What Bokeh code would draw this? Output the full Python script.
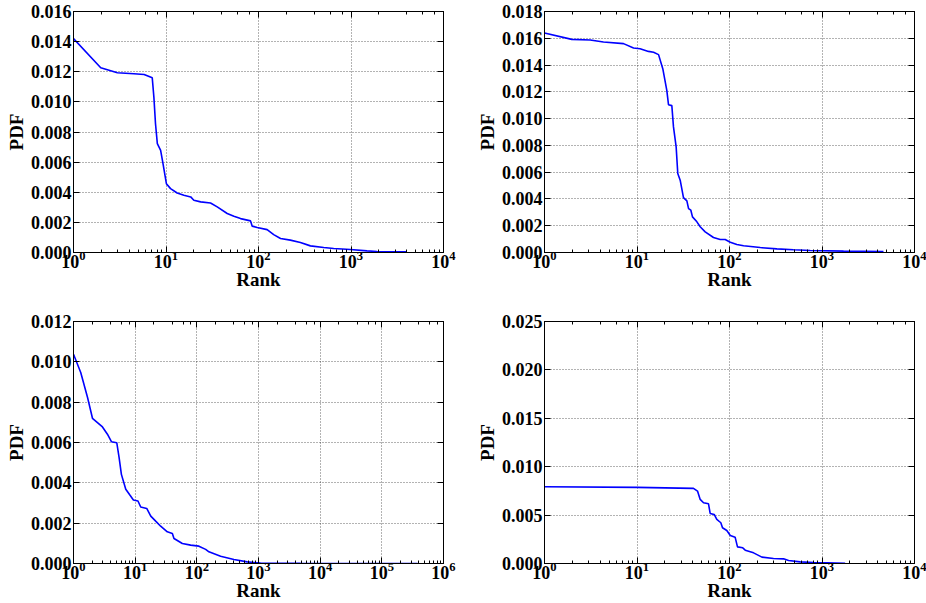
from bokeh.plotting import figure
from bokeh.layouts import column, row
from bokeh.models import (Range1d, LogAxis, LinearAxis, FixedTicker,
                          NumeralTickFormatter, LogTicker, CustomJSTickFormatter)
from bokeh.embed import file_html
from bokeh.resources import INLINE

# ---- data (rank, pdf) ----
rank_a = [1, 1.97, 2.98, 4.5, 5.8, 7.1, 7.4, 7.7, 8.06, 8.75, 9.28, 10.1, 11.2, 13.2,
          15.6, 18.5, 20, 23.7, 30.3, 35.8, 45.9, 54.2, 64, 82, 85.5, 96.8, 124, 146,
          173, 221, 284, 364, 507, 650, 984, 1489, 1906, 4020]
pdf_a = [0.0142, 0.01227, 0.01193, 0.01187, 0.01182, 0.0116, 0.0103, 0.00855, 0.00723,
         0.00678, 0.0059, 0.00457, 0.00424, 0.00395, 0.0038, 0.00369, 0.00347, 0.00336,
         0.00329, 0.00303, 0.00259, 0.00241, 0.00225, 0.0021, 0.00175, 0.00166, 0.00152,
         0.00119, 0.00093, 0.00082, 0.00066, 0.00044, 0.00033, 0.00027, 0.0002, 0.00011,
         0.00007, 0.00004]

rank_b = [1, 1.97, 3.12, 4.34, 7.15, 9.17, 10.8, 13.3, 15.1, 17.1, 19, 21, 21.9, 23.8,
          24.8, 26.5, 27.6, 29.3, 31.8, 34.6, 36.1, 38.2, 39.8, 44.4, 48.2, 54.6, 67.1,
          79.3, 89.8, 102, 120, 142, 215, 325, 492, 745, 1708, 4620]
pdf_b = [0.0164, 0.01592, 0.01587, 0.01572, 0.0156, 0.01527, 0.01522, 0.01502, 0.01495,
         0.01478, 0.01373, 0.01211, 0.01104, 0.01097, 0.00938, 0.00789, 0.0059, 0.0054,
         0.0041, 0.00386, 0.00328, 0.00316, 0.00266, 0.00229, 0.00192, 0.00154, 0.00112,
         0.00097, 0.00097, 0.00077, 0.0006, 0.0005, 0.00037, 0.00027, 0.0002, 0.00015,
         0.0001, 0.00007]

rank_c = [1, 1.31, 1.69, 2.03, 2.95, 3.55, 4.12, 5.03, 5.49, 5.98, 7.04, 8.26, 9.36,
          11.1, 12.3, 15.4, 17.9, 21.5, 25.9, 33.2, 40.1, 42.6, 58.2, 79.4, 108, 139,
          157, 243, 399, 656, 1079, 4790, 380000]
pdf_c = [0.01038, 0.00947, 0.00823, 0.0072, 0.00677, 0.00641, 0.00604, 0.00599, 0.00525,
         0.00442, 0.00368, 0.00338, 0.00315, 0.0031, 0.0028, 0.00273, 0.00235, 0.0021,
         0.00185, 0.00157, 0.00149, 0.00124, 0.00099, 0.00091, 0.00086, 0.0007, 0.00058,
         0.00036, 0.0002, 0.00008, 0.00002, 0.000005, 0.0]

rank_d = [1, 9.96, 40.8, 45.1, 48.2, 52.4, 59.3, 61.8, 68.3, 72.9, 80.6, 84, 93.5, 102,
          115, 122, 139, 148, 182, 224, 299, 384, 435, 581, 809, 1128, 1778]
pdf_d = [0.00793, 0.00786, 0.00776, 0.00748, 0.00662, 0.00628, 0.00617, 0.00517, 0.00507,
         0.00455, 0.00421, 0.00369, 0.00341, 0.0029, 0.00272, 0.00172, 0.00162, 0.00138,
         0.0011, 0.00066, 0.00052, 0.00048, 0.00031, 0.00017, 0.0001, 0.00007, 0.00003]

x_max = [1e4, 1e4, 1e6, 1e4]
y_max = [0.016, 0.018, 0.012, 0.025]
y_ticks_a = [0.0, 0.002, 0.004, 0.006, 0.008, 0.010, 0.012, 0.014, 0.016]
y_ticks_b = [0.0, 0.002, 0.004, 0.006, 0.008, 0.010, 0.012, 0.014, 0.016, 0.018]
y_ticks_c = [0.0, 0.002, 0.004, 0.006, 0.008, 0.010, 0.012]
y_ticks_d = [0.0, 0.005, 0.010, 0.015, 0.020, 0.025]
x_label = "Rank"
y_label = "PDF"

FONT = "Liberation Serif"
FS = "18px"
FS_LABEL = "19px"


def make(xs, ys, xmax, ymax, yticks, w, h, bl, br, bt, bb):
    p = figure(width=w, height=h, x_axis_type="log", output_backend="svg",
               toolbar_location=None, x_range=Range1d(1, xmax), y_range=Range1d(0, ymax),
               min_border_left=bl, min_border_right=br, min_border_top=bt,
               min_border_bottom=bb)
    p.line(xs, ys, line_color="#0000ff", line_width=1.6)
    p.outline_line_color = "black"
    p.outline_line_width = 1
    p.background_fill_color = "white"
    p.border_fill_color = "white"
    p.yaxis.ticker = FixedTicker(ticks=yticks)
    p.yaxis.formatter = NumeralTickFormatter(format="0.000")
    for ax in [p.xaxis[0], p.yaxis[0]]:
        ax.major_label_text_font = FONT
        ax.major_label_text_font_style = "bold"
        ax.major_label_text_font_size = FS
        ax.major_label_text_color = "black"
        ax.axis_label_text_font = FONT
        ax.axis_label_text_font_style = "bold"
        ax.axis_label_text_font_size = FS_LABEL
        ax.axis_label_text_color = "black"
        ax.major_tick_in = 6
        ax.major_tick_out = 0
        ax.minor_tick_in = 3
        ax.minor_tick_out = 0
        ax.axis_line_color = "black"
    p.xaxis.axis_label = x_label
    p.yaxis.axis_label = y_label
    p.xaxis.major_label_standoff = -2
    p.xaxis.axis_label_standoff = -2
    p.yaxis.major_label_standoff = 2
    p.yaxis.axis_label_standoff = 1
    blank = CustomJSTickFormatter(code="return ' '")
    blank2 = CustomJSTickFormatter(code="return ' '")
    top = LogAxis(ticker=LogTicker(), formatter=blank, major_label_text_font_size="2px",
                  major_tick_in=6, major_tick_out=0, minor_tick_in=3, minor_tick_out=0,
                  axis_line_color="black", major_label_standoff=0)
    right = LinearAxis(ticker=FixedTicker(ticks=yticks),
                       formatter=blank2, major_label_text_font_size="2px",
                       major_tick_in=6, major_tick_out=0, minor_tick_in=0, minor_tick_out=0,
                       axis_line_color="black", major_label_standoff=0)
    p.add_layout(top, "above")
    p.add_layout(right, "right")
    p.xgrid.grid_line_color = "black"
    p.xgrid.grid_line_alpha = 0.6
    p.xgrid.grid_line_dash = "1 2"
    p.ygrid.grid_line_color = "black"
    p.ygrid.grid_line_alpha = 0.6
    p.ygrid.grid_line_dash = "1 2"
    return p


p1 = make(rank_a, pdf_a, x_max[0], y_max[0], y_ticks_a, 463, 301, 73, 20, 11, 49)
p2 = make(rank_b, pdf_b, x_max[1], y_max[1], y_ticks_b, 463, 301, 81, 12, 11, 49)
p3 = make(rank_c, pdf_c, x_max[2], y_max[2], y_ticks_c, 463, 302, 73, 20, 20, 40)
p4 = make(rank_d, pdf_d, x_max[3], y_max[3], y_ticks_d, 463, 302, 81, 12, 20, 40)

layout = column(row(p1, p2), row(p3, p4))
open("out.html", "w").write(file_html(layout, INLINE))
